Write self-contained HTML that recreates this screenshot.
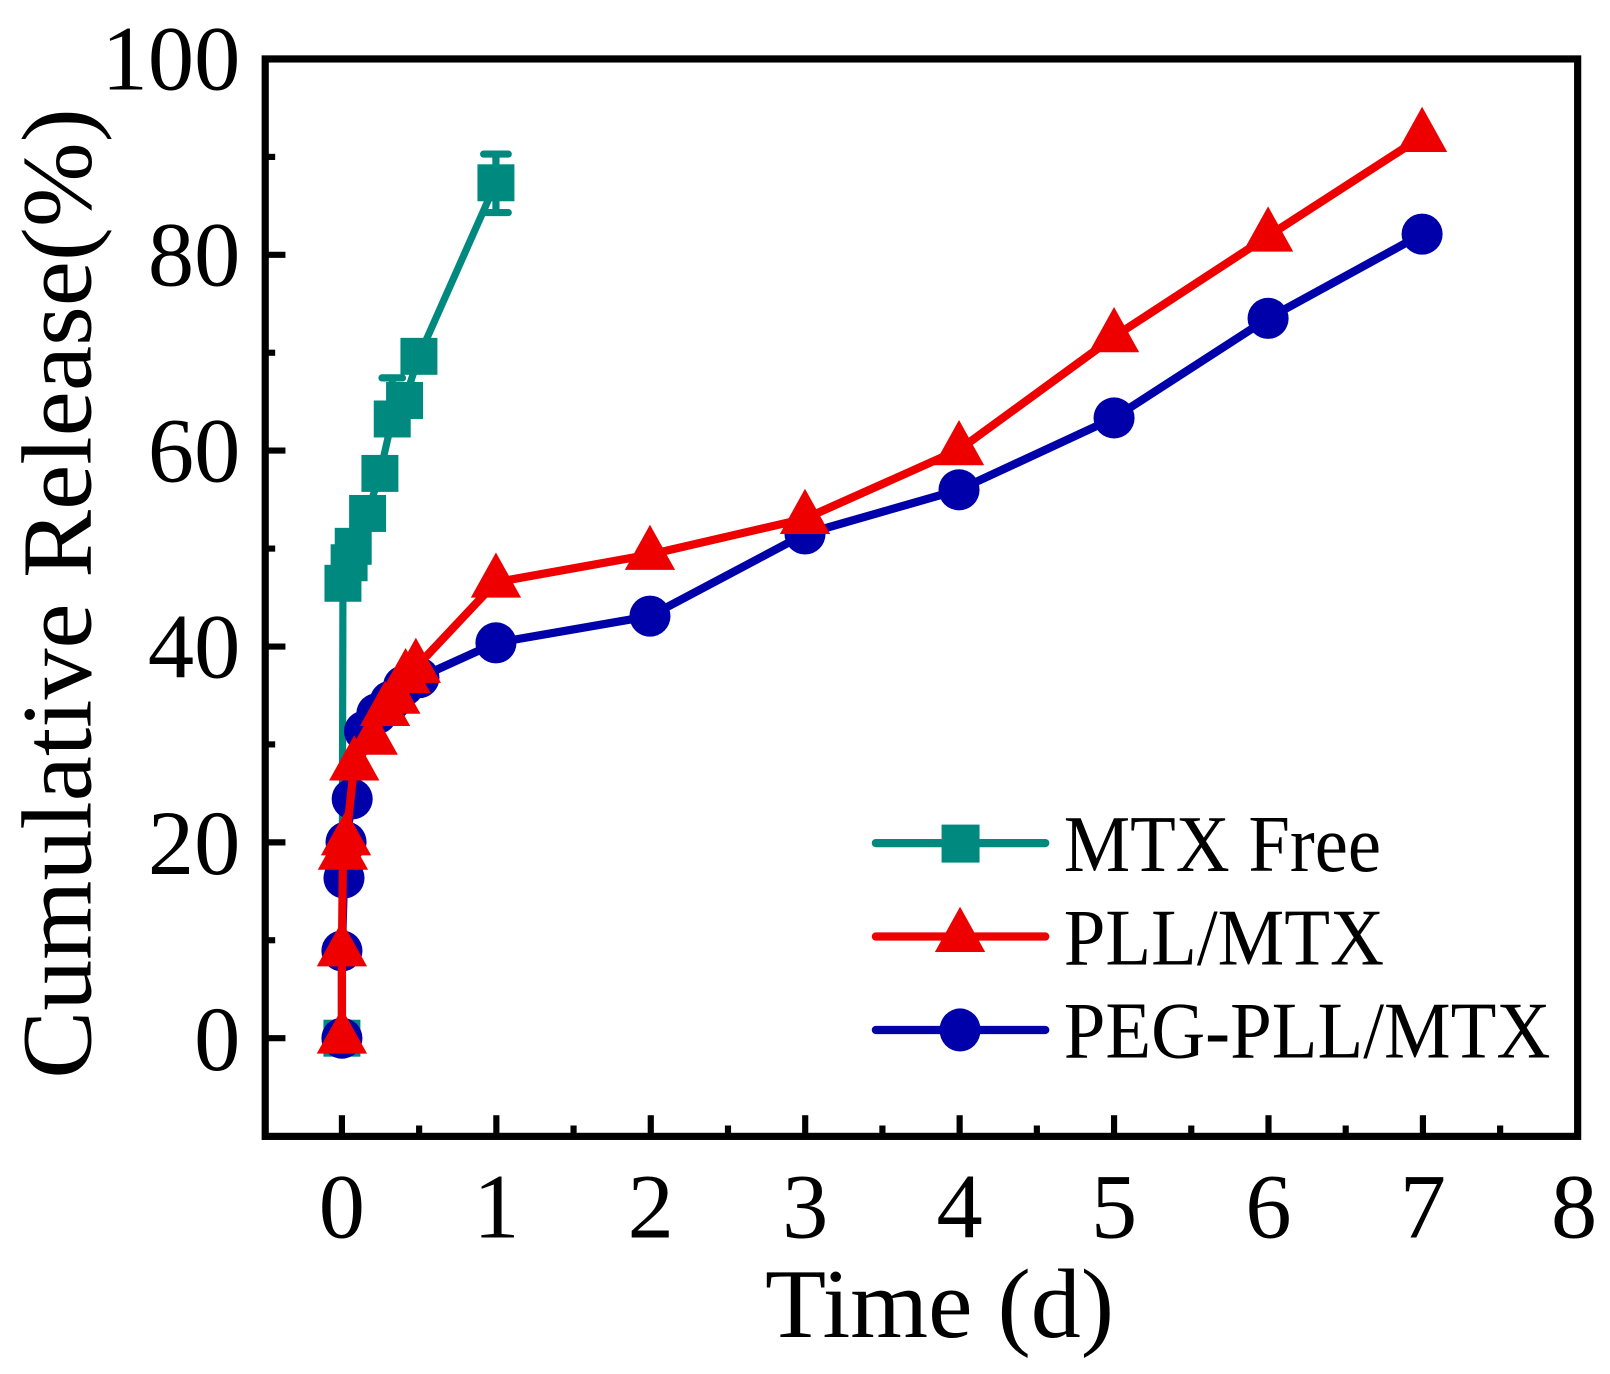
<!DOCTYPE html>
<html><head><meta charset="utf-8"><style>html,body{margin:0;padding:0;background:#fff}svg{display:block}</style></head>
<body>
<svg width="1610" height="1374" viewBox="0 0 1568 1338" preserveAspectRatio="none" xmlns="http://www.w3.org/2000/svg" font-family="'Liberation Serif', serif">
<defs>
<g id="tri"><polygon points="0,-29 24.5,15 -24.5,15"/></g>
</defs>
<rect width="1568" height="1338" fill="#fff"/>
<!-- ticks -->
<g stroke="#000" stroke-width="6">
<line x1="258" y1="1011" x2="278" y2="1011"/><line x1="258" y1="820.3" x2="278" y2="820.3"/><line x1="258" y1="629.6" x2="278" y2="629.6"/><line x1="258" y1="438.8" x2="278" y2="438.8"/><line x1="258" y1="248.1" x2="278" y2="248.1"/>
<line x1="258" y1="915.6" x2="268" y2="915.6"/><line x1="258" y1="724.9" x2="268" y2="724.9"/><line x1="258" y1="534.2" x2="268" y2="534.2"/><line x1="258" y1="343.5" x2="268" y2="343.5"/><line x1="258" y1="152.8" x2="268" y2="152.8"/>
<line x1="333" y1="1106" x2="333" y2="1086"/><line x1="483.4" y1="1106" x2="483.4" y2="1086"/><line x1="633.8" y1="1106" x2="633.8" y2="1086"/><line x1="784.2" y1="1106" x2="784.2" y2="1086"/><line x1="934.6" y1="1106" x2="934.6" y2="1086"/><line x1="1085" y1="1106" x2="1085" y2="1086"/><line x1="1235.4" y1="1106" x2="1235.4" y2="1086"/><line x1="1385.8" y1="1106" x2="1385.8" y2="1086"/>
<line x1="408.2" y1="1106" x2="408.2" y2="1096"/><line x1="558.6" y1="1106" x2="558.6" y2="1096"/><line x1="709" y1="1106" x2="709" y2="1096"/><line x1="859.4" y1="1106" x2="859.4" y2="1096"/><line x1="1009.8" y1="1106" x2="1009.8" y2="1096"/><line x1="1160.2" y1="1106" x2="1160.2" y2="1096"/><line x1="1310.6" y1="1106" x2="1310.6" y2="1096"/><line x1="1461" y1="1106" x2="1461" y2="1096"/>
</g>
<!-- MTX Free -->
<g stroke="#00897f" stroke-width="7" stroke-linecap="round" stroke-linejoin="round" fill="none">
<polyline points="333,1011 334,568 340,548 344,532 358,500 370,461 382,408 394,390 408,347 483,178"/>
<line x1="483" y1="150" x2="483" y2="207"/><line x1="471" y1="150" x2="495" y2="150"/><line x1="471" y1="207" x2="495" y2="207"/>
<line x1="382" y1="368" x2="382" y2="408"/><line x1="372" y1="368" x2="392" y2="368"/>
<line x1="370" y1="461" x2="370" y2="448"/><line x1="360" y1="448" x2="380" y2="448"/>
</g>
<g fill="#00897f">
<rect x="315" y="993" width="36" height="36"/><rect x="316" y="550" width="36" height="36"/><rect x="322" y="530" width="36" height="36"/><rect x="326" y="514" width="36" height="36"/><rect x="340" y="482" width="36" height="36"/><rect x="352" y="443" width="36" height="36"/><rect x="364" y="390" width="36" height="36"/><rect x="376" y="372" width="36" height="36"/><rect x="390" y="329" width="36" height="36"/><rect x="465" y="160" width="36" height="36"/>
</g>
<!-- PEG-PLL/MTX -->
<polyline fill="none" stroke="#0000aa" stroke-width="8" stroke-linecap="round" stroke-linejoin="round" points="333,1011 333,926 335,855 337,820 343,778 355,712 367,695 380,683 393,668 408,660 483,626 633,600 784,520 934,477 1085,407 1235,310 1385,228"/>
<g fill="#0000aa">
<circle cx="333" cy="1011" r="20"/><circle cx="333" cy="926" r="20"/><circle cx="335" cy="855" r="20"/><circle cx="337" cy="820" r="20"/><circle cx="343" cy="778" r="20"/><circle cx="355" cy="712" r="20"/><circle cx="367" cy="695" r="20"/><circle cx="380" cy="683" r="20"/><circle cx="393" cy="668" r="20"/><circle cx="408" cy="660" r="20"/><circle cx="483" cy="626" r="20"/><circle cx="633" cy="600" r="20"/><circle cx="784" cy="520" r="20"/><circle cx="934" cy="477" r="20"/><circle cx="1085" cy="407" r="20"/><circle cx="1235" cy="310" r="20"/><circle cx="1385" cy="228" r="20"/>
</g>
<!-- PLL/MTX -->
<polyline fill="none" stroke="#ee0000" stroke-width="8" stroke-linecap="round" stroke-linejoin="round" points="333,1011 333,926 334,832 337,818 345,745 363,720 375,692 385,680 395,660 405,650 483,567 633,540 784,505 934,438 1085,328 1235,230 1385,133"/>
<g fill="#ee0000">
<use href="#tri" x="333" y="1011"/><use href="#tri" x="333" y="926"/><use href="#tri" x="334" y="832"/><use href="#tri" x="337" y="818"/><use href="#tri" x="345" y="745"/><use href="#tri" x="363" y="720"/><use href="#tri" x="375" y="692"/><use href="#tri" x="385" y="680"/><use href="#tri" x="395" y="660"/><use href="#tri" x="405" y="650"/><use href="#tri" x="483" y="567"/><use href="#tri" x="633" y="540"/><use href="#tri" x="784" y="505"/><use href="#tri" x="934" y="438"/><use href="#tri" x="1085" y="328"/><use href="#tri" x="1235" y="230"/><use href="#tri" x="1385" y="133"/>
</g>
<!-- axes box -->
<rect x="258.3" y="57.4" width="1278.2" height="1049.2" fill="none" stroke="#000" stroke-width="7"/>
<!-- legend -->
<g stroke-width="8" stroke-linecap="round">
<line x1="853" y1="821" x2="1018" y2="821" stroke="#00897f"/>
<line x1="853" y1="912" x2="1018" y2="912" stroke="#ee0000"/>
<line x1="853" y1="1003" x2="1018" y2="1003" stroke="#0000aa"/>
</g>
<rect x="917" y="803" width="37" height="37" fill="#00897f"/>
<use href="#tri" x="935" y="912" fill="#ee0000"/>
<ellipse cx="935" cy="1003" rx="20" ry="21" fill="#0000aa"/>
<g font-size="78" fill="#000">
<text x="1036" y="848" textLength="309" lengthAdjust="spacingAndGlyphs">MTX Free</text>
<text x="1036" y="939" textLength="312" lengthAdjust="spacingAndGlyphs">PLL/MTX</text>
<text x="1036" y="1030" textLength="474" lengthAdjust="spacingAndGlyphs">PEG-PLL/MTX</text>
</g>
<!-- tick labels -->
<g font-size="90" fill="#000" text-anchor="end">
<text x="234" y="1042">0</text><text x="234" y="851">20</text><text x="234" y="660">40</text><text x="234" y="469">60</text><text x="234" y="278">80</text><text x="234" y="87">100</text>
</g>
<g font-size="90" fill="#000" text-anchor="middle">
<text x="333" y="1205">0</text><text x="483.4" y="1205">1</text><text x="633.8" y="1205">2</text><text x="784.2" y="1205">3</text><text x="934.6" y="1205">4</text><text x="1085" y="1205">5</text><text x="1235.4" y="1205">6</text><text x="1385.8" y="1205">7</text><text x="1533" y="1205">8</text>
</g>
<text x="915" y="1302" font-size="96" text-anchor="middle" fill="#000" textLength="340" lengthAdjust="spacingAndGlyphs">Time (d)</text>
<text transform="translate(88,578) rotate(-90)" font-size="97" text-anchor="middle" fill="#000" textLength="945" lengthAdjust="spacingAndGlyphs">Cumulative Release(%)</text>
</svg>
</body></html>
